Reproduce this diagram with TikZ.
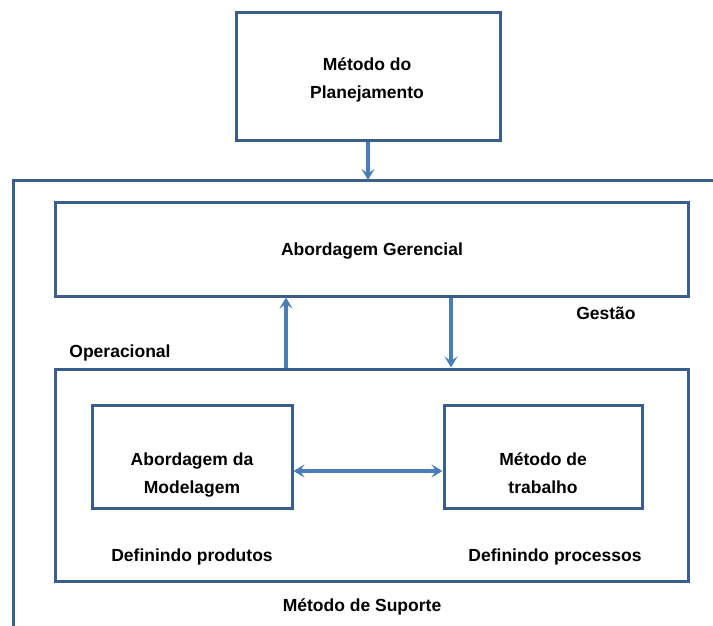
\documentclass[tikz,border=0pt]{standalone}
\usepackage{fontspec}
\setmainfont{Liberation Sans}
\usetikzlibrary{arrows.meta}
\definecolor{frameblue}{HTML}{3A5F8F}
\definecolor{arrowblue}{HTML}{4A7EBB}
\begin{document}
\begin{tikzpicture}[x=1pt,y=-1pt,
  >={Stealth[length=11pt,width=13pt,inset=4.5pt]},
  box/.style={draw=frameblue,line width=3pt,fill=white},
  conn/.style={draw=arrowblue,line width=3.2pt,->},
  lbl/.style={font=\bfseries\fontsize{17.5}{28}\selectfont,align=center,inner sep=0pt}]
\useasboundingbox (0,0) rectangle (713,626);
% open support frame
\draw[frameblue,line width=3pt] (13,630) -- (13,180) -- (716,180);
\coordinate (frameTop) at (368,180);
% boxes
\node[box,minimum width=264pt,minimum height=127pt] (plan) at (368,76.5) {};
\node[lbl] at (367,80) {Método do\\Planejamento};
\node[box,minimum width=633pt,minimum height=94pt] (ger) at (371.5,249) {};
\node[lbl] at (372,251) {Abordagem Gerencial};
\node[box,minimum width=633pt,minimum height=212pt] (op) at (371.5,475) {};
\node[box,minimum width=200pt,minimum height=103pt] (mod) at (192,456.5) {};
\node[lbl] at (192,475) {Abordagem da\\Modelagem};
\node[box,minimum width=198pt,minimum height=103pt] (trab) at (543,456.5) {};
\node[lbl] at (543,473) {Método de\\trabalho};
% labels
\node[lbl] (gestao) at (606,313) {Gestão};
\node[lbl] (opl) at (120,353) {Operacional};
\node[lbl] (defprod) at (192,557) {Definindo produtos};
\node[lbl] (defproc) at (555,557) {Definindo processos};
\node[lbl] (sup) at (362,607) {Método de Suporte};
% connectors
\draw[conn] (plan.south) -- (frameTop);
\draw[conn] (op.north -| 286,0) -- (ger.south -| 286,0);
\draw[conn] (ger.south -| 451,0) -- (op.north -| 451,0);
\draw[conn,<->] (mod.east |- 0,471) -- (trab.west |- 0,471);
\end{tikzpicture}
\end{document}
